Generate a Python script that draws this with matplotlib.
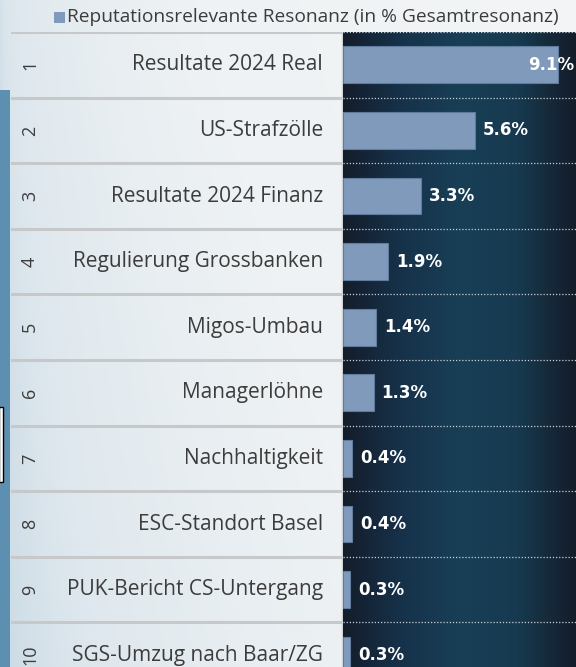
import matplotlib

matplotlib.use("Agg")
import matplotlib.pyplot as plt
import numpy as np
from matplotlib.colors import LinearSegmentedColormap
from matplotlib.patches import Rectangle

W, H = 576, 667

ranks = ["1", "2", "3", "4", "5", "6", "7", "8", "9", "10"]
topics = [
    "Resultate 2024 Real",
    "US-Strafzölle",
    "Resultate 2024 Finanz",
    "Regulierung Grossbanken",
    "Migos-Umbau",
    "Managerlöhne",
    "Nachhaltigkeit",
    "ESC-Standort Basel",
    "PUK-Bericht CS-Untergang",
    "SGS-Umzug nach Baar/ZG",
]
shares = [9.1, 5.6, 3.3, 1.9, 1.4, 1.3, 0.4, 0.4, 0.3, 0.3]
legend_label = "Reputationsrelevante Resonanz (in % Gesamtresonanz)"

BAR_COLOR = "#7f9aba"
TEXT_COLOR = "#3c3c3c"
FONT = "Open Sans"

# layout in pixels
TOP = 32
SPLIT = 343
LEFT = 11
ROW = 65.6
PX_PER_PCT = 23.6


def px_axes(x0, y0, x1, y1):
    return fig.add_axes([x0 / W, 1 - y1 / H, (x1 - x0) / W, (y1 - y0) / H])


fig = plt.figure(figsize=(W / 100, H / 100), dpi=100)

# light photo-like background
ax_bg = fig.add_axes([0, 0, 1, 1])
bg_cmap = LinearSegmentedColormap.from_list(
    "bg", ["#c4d6e2", "#dfe8ee", "#eef2f4", "#f3f5f6"]
)
gx = np.linspace(0, 1, 300)
gy = np.linspace(0, 1, 300)
grad = 0.8 * gx[None, :] ** 0.5 + 0.2 * (1 - gy[:, None])
ax_bg.imshow(grad, cmap=bg_cmap, extent=[0, W, H, 0], aspect="auto")
ax_bg.add_patch(Rectangle((0, 90), 10, H - 90, color="#5d8fb0", lw=0))
ax_bg.add_patch(Rectangle((-1, 407), 4, 75, facecolor="white",
                          edgecolor="black", lw=1))
ax_bg.set_xlim(0, W)
ax_bg.set_ylim(H, 0)
ax_bg.axis("off")

# legend
ax_bg.add_patch(Rectangle((54, 12), 11, 11, color=BAR_COLOR, lw=0))
ax_bg.text(67, 17.5, legend_label, fontsize=13.8, color=TEXT_COLOR,
           family=FONT, va="center", ha="left")

n_vis = (H - TOP) / ROW

# label panel
ax_lab = px_axes(LEFT, TOP, SPLIT, H)
ax_lab.patch.set_alpha(0)
ax_lab.set_xlim(0, 1)
ax_lab.set_ylim(n_vis - 0.5, -0.5)
ax_lab.axis("off")
for i in range(len(topics) + 1):
    ax_lab.axhline(i - 0.5, color="#c6c8ca", lw=2.2, zorder=1)
ax_lab.axvline(1, color="#cfd3d6", lw=2.5)
for i, (r, t) in enumerate(zip(ranks, topics)):
    ax_lab.text(0.94, i, t, ha="right", va="center", fontsize=15,
                color=TEXT_COLOR, family=FONT)
    ax_lab.text(0.057, i, r, ha="center", va="center", fontsize=13,
                color=TEXT_COLOR, family=FONT, rotation=90)

# bar panel
ax = px_axes(SPLIT, TOP, W, H)
xmax = (W - SPLIT) / PX_PER_PCT
dark_cmap = LinearSegmentedColormap.from_list(
    "dark", ["#141d2b", "#16324a", "#183f56", "#173a50", "#141c29"]
)
ax.imshow(np.linspace(0, 1, 256)[None, :], cmap=dark_cmap,
          extent=[0, xmax, n_vis - 0.5, -0.5], aspect="auto", zorder=0)
ax.barh(range(len(shares)), shares, height=0.56, color=BAR_COLOR,
        edgecolor="#5f7c9d", lw=0.8, zorder=2)
for i in range(len(topics) + 1):
    ax.axhline(i - 0.5, color="#c8d0d8", lw=0.9, ls=(0, (1, 1.5)), zorder=1)
for i, v in enumerate(shares):
    label = f"{v:.1f}%"
    x = v + 8 / PX_PER_PCT
    if x + 2.0 > xmax:
        ax.text(xmax - 2 / PX_PER_PCT, i, label, ha="right", va="center",
                fontsize=12, fontweight="bold", color="white",
                family="DejaVu Sans", zorder=3)
    else:
        ax.text(x, i, label, ha="left", va="center", fontsize=12,
                fontweight="bold", color="white", family="DejaVu Sans",
                zorder=3)
ax.set_xlim(0, xmax)
ax.set_ylim(n_vis - 0.5, -0.5)
ax.axis("off")

fig.savefig("out.png", dpi=100)
